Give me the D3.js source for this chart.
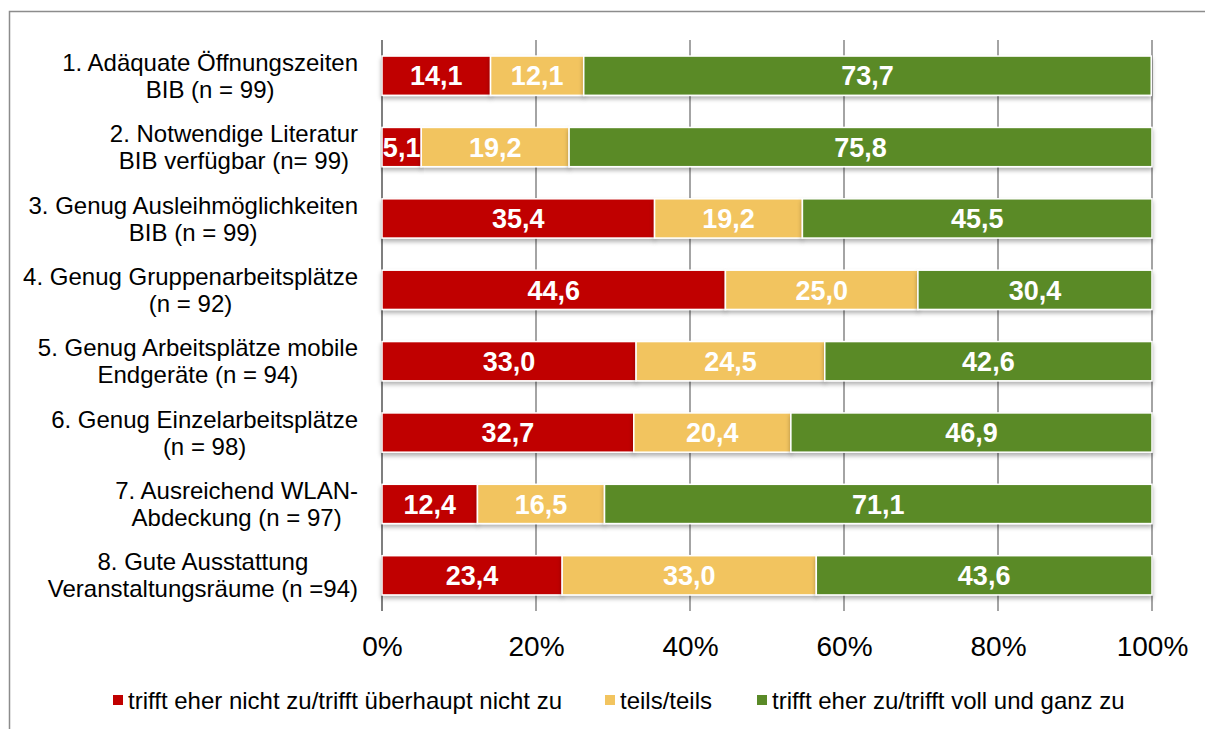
<!DOCTYPE html>
<html>
<head>
<meta charset="utf-8">
<script src="https://cdn.jsdelivr.net/npm/d3@7"></script>
<style>
  body { margin: 0; background: #fff; }
  svg { font-family: "Liberation Sans", Arial, sans-serif; }
</style>
</head>
<body>
<svg id="chart"></svg>
<script>
const categories = [
  ['1. Adäquate Öffnungszeiten', 'BIB (n = 99)'],
  ['2. Notwendige Literatur', 'BIB verfügbar (n= 99)'],
  ['3. Genug Ausleihmöglichkeiten', 'BIB (n = 99)'],
  ['4. Genug Gruppenarbeitsplätze', '(n = 92)'],
  ['5. Genug Arbeitsplätze mobile', 'Endgeräte (n = 94)'],
  ['6. Genug Einzelarbeitsplätze', '(n = 98)'],
  ['7. Ausreichend WLAN-', 'Abdeckung (n = 97)'],
  ['8. Gute Ausstattung', 'Veranstaltungsräume (n =94)']
];
const negative = [14.1, 5.1, 35.4, 44.6, 33.0, 32.7, 12.4, 23.4];
const neutral = [12.1, 19.2, 19.2, 25.0, 24.5, 20.4, 16.5, 33.0];
const positive = [73.7, 75.8, 45.5, 30.4, 42.6, 46.9, 71.1, 43.6];
const seriesNames = ['trifft eher nicht zu/trifft überhaupt nicht zu', 'teils/teils', 'trifft eher zu/trifft voll und ganz zu'];
const colors = ['#C00000', '#F2C45F', '#5A8A28'];
const xTicks = [0, 20, 40, 60, 80, 100];

const width = 1205, height = 729;
const svg = d3.select('#chart').attr('width', width).attr('height', height);

// outer frame
svg.append('path')
  .attr('d', `M9.5,${height} V11.5 H${width}`)
  .attr('fill', 'none')
  .attr('stroke', '#8c8c8c')
  .attr('stroke-width', 1.5);

const x = d3.scaleLinear().domain([0, 100]).range([382, 1152]);
const y = d3.scaleBand().domain(d3.range(categories.length)).range([40, 611]).paddingInner(0.45).paddingOuter(0.225);

const defs = svg.append('defs');
const f = defs.append('filter').attr('id', 'shadow').attr('x', '-5%').attr('y', '-20%').attr('width', '110%').attr('height', '160%');
f.append('feDropShadow').attr('dx', 0).attr('dy', 3).attr('stdDeviation', 2).attr('flood-color', '#000').attr('flood-opacity', 0.3);

// gridlines
svg.append('g').selectAll('line')
  .data(xTicks)
  .join('line')
    .attr('x1', d => x(d)).attr('x2', d => x(d))
    .attr('y1', 40).attr('y2', 611)
    .attr('stroke', d => d === 0 ? '#7f7f7f' : '#868686')
    .attr('stroke-width', d => d === 0 ? 2 : 1.5);

const rows = categories.map((c, i) => {
  const vals = [negative[i], neutral[i], positive[i]];
  let acc = 0;
  return vals.map((v, k) => {
    const seg = { i, k, x0: acc, x1: acc + v, v };
    acc += v;
    return seg;
  });
}).flat();

const bars = svg.append('g');
bars.selectAll('rect')
  .data(rows)
  .join('rect')
    .attr('x', d => x(d.x0))
    .attr('width', d => Math.max(0, x(Math.min(d.x1, 100)) - x(d.x0)))
    .attr('y', d => y(d.i))
    .attr('height', y.bandwidth())
    .attr('fill', d => colors[d.k])
    .attr('stroke', '#fff')
    .attr('stroke-width', 1.5)
    .attr('filter', 'url(#shadow)');

bars.selectAll('text')
  .data(rows)
  .join('text')
    .attr('x', d => x((d.x0 + Math.min(d.x1, 100)) / 2))
    .attr('y', d => y(d.i) + y.bandwidth() / 2)
    .attr('dy', '0.36em')
    .attr('text-anchor', 'middle')
    .attr('fill', '#fff')
    .attr('font-weight', 'bold')
    .attr('font-size', 27)
    .text(d => d.v.toFixed(1).replace('.', ','));

// category labels: each two-line block centred, block right edge near the axis
const labelRight = 358;
const labels = svg.append('g');
categories.forEach((c, i) => {
  const cy = y(i) + y.bandwidth() / 2;
  const t = labels.append('text')
    .attr('text-anchor', 'middle')
    .attr('font-size', 24)
    .attr('fill', '#000');
  const a = t.append('tspan').attr('y', cy - 13.5).attr('dy', '0.36em').text(c[0]);
  const b = t.append('tspan').attr('y', cy + 13.5).attr('dy', '0.36em').text(c[1]);
  const w = Math.max(a.node().getComputedTextLength(), b.node().getComputedTextLength());
  a.attr('x', labelRight - w / 2);
  b.attr('x', labelRight - w / 2);
});

// x axis
const xAxis = d3.axisBottom(x).tickValues(xTicks).tickFormat(d => d + '%').tickSize(0).tickPadding(0);
const gx = svg.append('g').attr('transform', 'translate(0,636)').call(xAxis);
gx.select('.domain').remove();
gx.selectAll('text').attr('font-size', 28).attr('fill', '#000').attr('font-family', '"Liberation Sans", Arial, sans-serif');

// legend
const legendPos = [113, 605, 757];
const legend = svg.append('g');
seriesNames.forEach((s, k) => {
  legend.append('rect')
    .attr('x', legendPos[k]).attr('y', 695)
    .attr('width', 10).attr('height', 10)
    .attr('fill', colors[k]);
  legend.append('text')
    .attr('x', legendPos[k] + 15).attr('y', 700)
    .attr('dy', '0.36em')
    .attr('font-size', 24)
    .text(s);
});
</script>
</body>
</html>
